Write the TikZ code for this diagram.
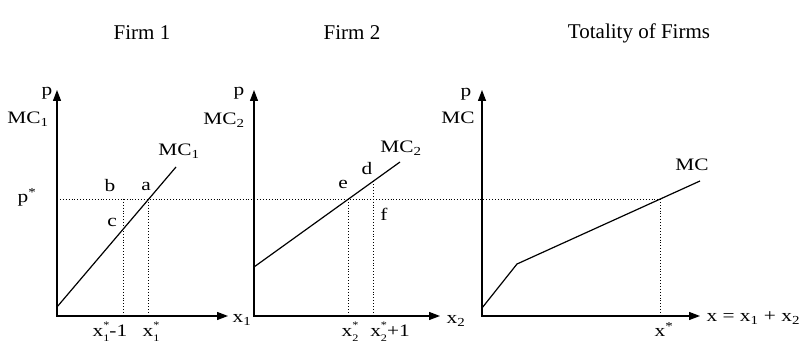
\documentclass[tikz,border=0pt]{standalone}
\usepackage{fontspec}
\setmainfont{Liberation Serif}
\newfontfamily\lblfont[FakeStretch=1.22]{Liberation Serif}
\usetikzlibrary{arrows.meta}
\newcommand{\xstar}[1]{x\rlap{\raisebox{1.1ex}{\fontsize{10}{10}\selectfont *}}\raisebox{-0.5ex}{\fontsize{10}{10}\selectfont #1}}
\tikzset{
  every picture/.style={line width=1.2pt},
  axis/.style={{Triangle[length=11pt, width=8pt]}-{Triangle[length=11pt, width=8pt]}, line width=1.3pt},
  curve/.style={line width=1.2pt},
  guide/.style={dotted, line width=0.9pt},
  title/.style={font=\fontsize{21}{25}\selectfont},
  lbl/.style={font=\lblfont\fontsize{17.5}{20}\selectfont, inner sep=0pt},
}
\begin{document}
\begin{tikzpicture}[x=1pt, y=1pt]
  \useasboundingbox (0,0) rectangle (803,342);
  % headings
  \node[title] (h1) at (142,309) {Firm 1};
  \node[title] (h2) at (352,309) {Firm 2};
  \node[title] (h3) at (639,309) {Totality of Firms};

  % firm 1
  \coordinate (o1) at (57,26); \coordinate (y1) at (57,252); \coordinate (x1) at (228,26);
  \coordinate (mc1s) at (57,35); \coordinate (mc1e) at (176,175);
  \coordinate (a) at (148.8,143); \coordinate (c) at (123,112.6); \coordinate (b) at (123,143);
  \draw[axis] (y1) -- (o1) -- (x1);
  \draw[curve] (mc1s) -- (mc1e);
  \draw[guide] (a) -- (a |- o1);
  \draw[guide] (b) -- (b |- o1);
  \node[lbl] (p1) at (47,249) {p};
  \node[lbl] (mcax1) at (28,223) {MC\textsubscript{1}};
  \node[lbl] (pstar) at (27,145) {p\textsuperscript{*}};
  \node[lbl] (mclab1) at (179,191) {MC\textsubscript{1}};
  \node[lbl] (lb) at (110,156) {b};
  \node[lbl] (la) at (146,156) {a};
  \node[lbl] (lc) at (112,120) {c};
  \node[lbl, anchor=west] (lx1) at (232,22) {x\textsubscript{1}};
  \node[lbl, anchor=base] (xs1m) at (110,5) {\xstar{1}-1};
  \node[lbl, anchor=base] (xs1) at (151,5) {\xstar{1}};

  % firm 2
  \coordinate (o2) at (254,26); \coordinate (y2) at (254,252); \coordinate (x2) at (440,26);
  \coordinate (mc2s) at (254,75); \coordinate (mc2e) at (400,180);
  \coordinate (e) at (348.6,143); \coordinate (d) at (373,160.6);
  \draw[axis] (y2) -- (o2) -- (x2);
  \draw[curve] (mc2s) -- (mc2e);
  \draw[guide] (e) -- (e |- o2);
  \draw[guide] (d) -- (d |- o2);
  \node[lbl] (p2) at (239,249) {p};
  \node[lbl] (mcax2) at (224,222) {MC\textsubscript{2}};
  \node[lbl] (mclab2) at (401,194) {MC\textsubscript{2}};
  \node[lbl] (le) at (343,158) {e};
  \node[lbl] (ld) at (367,173) {d};
  \node[lbl] (lf) at (384,128) {f};
  \node[lbl, anchor=west] (lx2) at (446,21) {x\textsubscript{2}};
  \node[lbl, anchor=base] (xs2) at (350,5) {\xstar{2}};
  \node[lbl, anchor=base] (xs2p) at (390,5) {\xstar{2}+1};

  % totality of firms
  \coordinate (o3) at (482,26); \coordinate (y3) at (482,252); \coordinate (x3) at (700,26);
  \coordinate (mcs) at (482,34); \coordinate (kink) at (517,78); \coordinate (mce) at (700,161);
  \coordinate (xs) at (660.3,143);
  \draw[axis] (y3) -- (o3) -- (x3);
  \draw[curve] (mcs) -- (kink) -- (mce);
  \draw[guide] (xs) -- (xs |- o3);
  \node[lbl] (p3) at (466,248) {p};
  \node[lbl] (mcax3) at (458,224) {MC};
  \node[lbl] (mclab) at (692,177) {MC};
  \node[lbl, anchor=west] (lx) at (706,24) {x = x\textsubscript{1} + x\textsubscript{2}};
  \node[lbl, anchor=base] (xstot) at (664,5) {x\textsuperscript{*}};

  % price line across all panels
  \draw[guide] (o1 |- a) -- (xs);
\end{tikzpicture}
\end{document}
